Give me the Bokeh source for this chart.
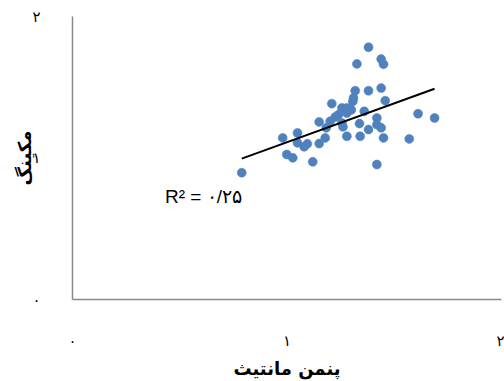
from bokeh.plotting import figure
from bokeh.models import Range1d, FixedTicker, Label, ColumnDataSource
from bokeh.embed import file_html
from bokeh.resources import INLINE

# Data
x_vals = [0.789, 1.380, 1.326, 1.439, 1.450, 1.318, 1.380, 1.439, 1.310, 1.307,
          1.458, 1.209, 1.256, 1.279, 1.279, 1.360, 1.611, 1.688, 1.225, 1.201,
          1.150, 1.419, 1.338, 1.419, 1.256, 1.261, 1.183, 1.439, 1.380, 1.049,
          0.980, 1.178, 1.279, 1.341, 1.450, 1.570, 1.049, 1.095, 1.080, 1.150,
          0.999, 1.027, 1.120, 1.419, 1.240, 1.300]
y_vals = [0.896, 1.783, 1.665, 1.699, 1.663, 1.475, 1.475, 1.494, 1.424, 1.400,
          1.405, 1.384, 1.354, 1.354, 1.318, 1.330, 1.313, 1.283, 1.290, 1.259,
          1.255, 1.283, 1.243, 1.236, 1.248, 1.220, 1.213, 1.213, 1.201, 1.177,
          1.142, 1.142, 1.154, 1.154, 1.142, 1.135, 1.107, 1.100, 1.079, 1.102,
          1.025, 1.001, 0.973, 0.954, 1.306, 1.340]
trend_x = [0.789, 1.688]
trend_y = [0.996, 1.489]
x_ticks = [0, 1, 2]
y_ticks = [0, 1, 2]
tick_labels = {0: "۰", 1: "۱", 2: "۲"}
x_title = "پنمن مانتیث"
y_title = "مکینگ"
r2_text = "R² = ۰/۲۵"

p = figure(width=504, height=381, output_backend="svg", toolbar_location=None,
           x_range=Range1d(0, 2), y_range=Range1d(0, 2),
           min_border_left=72, min_border_right=3, min_border_top=16,
           min_border_bottom=81)
p.outline_line_color = None
p.grid.visible = False
p.background_fill_color = "white"
p.border_fill_color = "white"

src = ColumnDataSource(dict(x=x_vals, y=y_vals))
p.scatter("x", "y", source=src, size=9, fill_color="#4F81BD",
          line_color="#4F81BD", line_width=0.5)
p.line(trend_x, trend_y, line_color="black", line_width=2)

p.add_layout(Label(x=0.431, y=0.727, text=r2_text, text_font="Liberation Sans",
                   text_font_size="19px", text_color="black",
                   text_baseline="middle", text_align="left"))

for ax in (p.xaxis[0], p.yaxis[0]):
    ax.axis_line_color = "#898989"
    ax.axis_line_width = 1.5
    ax.major_tick_line_color = None
    ax.minor_tick_line_color = None
    ax.major_label_text_font = "DejaVu Sans"
    ax.major_label_text_font_size = "15px"
    ax.major_label_text_color = "black"
    ax.axis_label_text_font = "DejaVu Sans"
    ax.axis_label_text_font_size = "18px"
    ax.axis_label_text_font_style = "bold"
    ax.axis_label_text_color = "black"

p.xaxis.ticker = FixedTicker(ticks=x_ticks)
p.yaxis.ticker = FixedTicker(ticks=y_ticks)
p.xaxis.major_label_overrides = {k: v for k, v in tick_labels.items()}
p.yaxis.major_label_overrides = {k: v for k, v in tick_labels.items()}
p.xaxis.major_label_standoff = 26
p.yaxis.major_label_standoff = 26
p.yaxis.major_label_orientation = 0
p.xaxis.axis_label = x_title
p.yaxis.axis_label = y_title
p.xaxis.axis_label_standoff = 5
p.yaxis.axis_label_standoff = -6

open("out.html", "w").write(file_html(p, INLINE))
